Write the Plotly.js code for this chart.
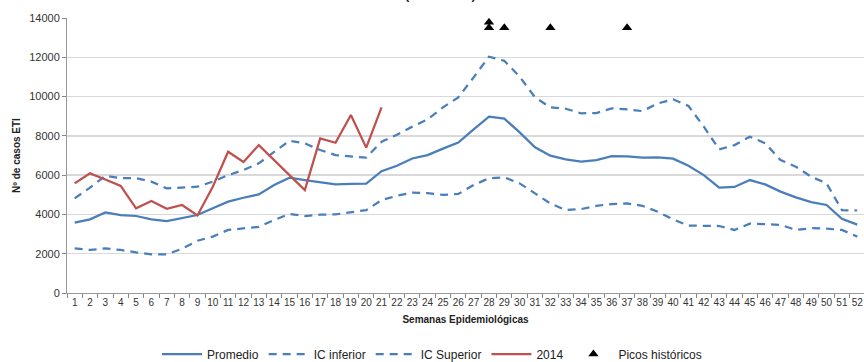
<!DOCTYPE html>
<html><head><meta charset="utf-8">
<script src="https://cdn.plot.ly/plotly-3.0.1.min.js"></script>
<style>html,body{margin:0;padding:0;background:#fff;}#chart{width:864px;height:362px;}</style>
</head><body><div id="chart"></div>
<script>
const weeks = Array.from({length:52},(_,i)=>String(i+1));
const promedio = [3580,3750,4100,3970,3920,3750,3665,3800,3970,4310,4650,4850,5020,5500,5870,5750,5650,5530,5550,5570,6200,6480,6850,7020,7350,7660,8330,8980,8880,8180,7420,6990,6800,6690,6770,6970,6950,6890,6900,6840,6480,6000,5360,5400,5750,5530,5160,4870,4630,4480,3780,3480];
const icInferior = [2270,2190,2270,2190,2070,1970,1970,2250,2660,2870,3210,3290,3370,3720,4020,3920,3990,4000,4110,4220,4730,4950,5110,5080,5000,5040,5500,5840,5890,5580,5070,4560,4220,4270,4440,4530,4560,4440,4140,3750,3430,3430,3410,3210,3530,3500,3470,3210,3300,3280,3210,2870];
const icSuperior = [4820,5360,5970,5850,5850,5670,5330,5360,5410,5670,6000,6260,6600,7180,7750,7620,7280,7020,6940,6890,7700,8060,8470,8840,9450,9960,10980,12030,11820,11010,9960,9450,9380,9150,9160,9400,9350,9260,9650,9860,9520,8470,7310,7530,7960,7620,6770,6430,5920,5580,4220,4200];
const weeks2014 = weeks.slice(0,21);
const y2014 = [5580,6090,5780,5450,4310,4680,4290,4480,3950,5410,7190,6670,7530,6770,6000,5240,7870,7650,9060,7400,9450];
const picosWeeks = ["28","28","29","32","37"];
const picosValues = [13500,13780,13500,13500,13500];

const blue = '#4A7EBB', red = '#C0504D';
const font = 'Liberation Sans Narrow, Arial Narrow, Arial, sans-serif';
const traces = [
  {x:weeks,y:promedio,name:'Promedio',type:'scatter',mode:'lines',line:{color:blue,width:2.25}},
  {x:weeks,y:icInferior,name:'IC inferior',type:'scatter',mode:'lines',line:{color:blue,width:2.25,dash:'8px,6px'}},
  {x:weeks,y:icSuperior,name:'IC Superior',type:'scatter',mode:'lines',line:{color:blue,width:2.25,dash:'8px,6px'}},
  {x:weeks2014,y:y2014,name:'2014',type:'scatter',mode:'lines',line:{color:red,width:2.25}},
  {x:picosWeeks,y:picosValues,name:'Picos históricos',type:'scatter',mode:'markers',marker:{symbol:'triangle-up',color:'#000',size:9}}
];
const layout = {
  width:864,height:362,
  margin:{l:67,r:0,t:18,b:69},
  paper_bgcolor:'#fff',plot_bgcolor:'#fff',
  font:{family:font,size:11,color:'#333'},
  showlegend:true,
  legend:{orientation:'h',xref:'container',yref:'container',x:0.5,xanchor:'center',y:0.022,yanchor:'middle',font:{family:font,size:12,color:'#222'},traceorder:'normal',itemwidth:40},
  xaxis:{type:'category',range:[-0.5,51.44],tickson:'boundaries',ticks:'outside',ticklen:4,tickcolor:'#888',tickangle:0,
    showline:true,linecolor:'#999',linewidth:1,showgrid:false,tickfont:{family:font,size:10,color:'#333'},
    title:{text:'<b>Semanas Epidemiológicas</b>',font:{family:font,size:10,color:'#222'},standoff:8},automargin:false},
  yaxis:{range:[0,14000],dtick:2000,tickformat:'d',ticks:'outside',ticklen:4,tickcolor:'#888',showline:true,linecolor:'#999',linewidth:1,
    showgrid:true,gridcolor:'#d9d9d9',gridwidth:1.5,zeroline:false,tickfont:{family:font,size:11,color:'#333'},
    title:{text:'<b>Nº de casos ETI</b>',font:{family:font,size:10,color:'#222'},standoff:6},automargin:false},
  annotations:[{text:'<b>(2004-2013)</b>',xref:'paper',yref:'paper',x:(440-67)/797,y:1+(18+5)/275,xanchor:'center',yanchor:'middle',showarrow:false,font:{family:font,size:13,color:'#222'}}]
};
Plotly.newPlot('chart',traces,layout,{displayModeBar:false,staticPlot:true});
</script></body></html>
